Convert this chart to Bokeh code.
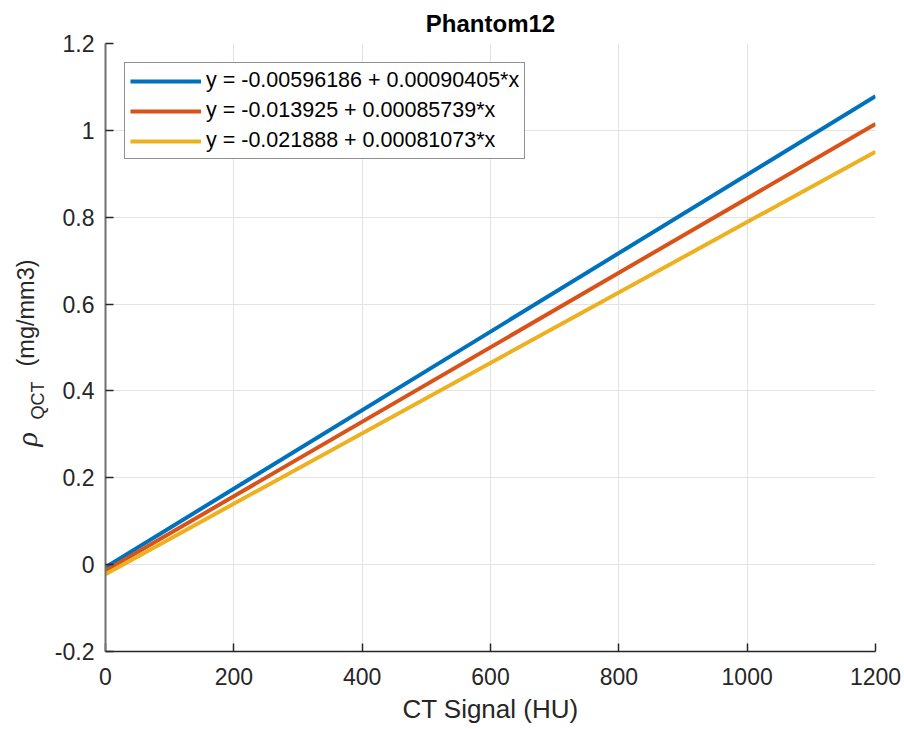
import math
from bokeh.plotting import figure
from bokeh.layouts import row
from bokeh.models import Range1d, FixedTicker
from bokeh.core.properties import value
from bokeh.embed import file_html
from bokeh.resources import INLINE

# ---- data ----
x_ends = [0, 1200]
blue_y = [-0.00596, 1.07890]
red_y = [-0.01393, 1.01494]
yellow_y = [-0.02189, 0.95099]
series_labels = [
    "y = -0.00596186 + 0.00090405*x",
    "y = -0.013925 + 0.00085739*x",
    "y = -0.021888 + 0.00081073*x",
]
series_colors = ["#0072BD", "#D95319", "#EDB120"]
x_ticks = [0, 200, 400, 600, 800, 1000, 1200]
y_ticks = [-0.2, 0, 0.2, 0.4, 0.6, 0.8, 1.0, 1.2]

W, H = 904, 729
LW = 51                      # width of the side panel holding the y label
L, R, T, B = 105, 29, 43, 78
X0, X1, Y0, Y1 = 0, 1200, -0.2, 1.2
FONT = "Liberation Sans"

p = figure(width=W - LW, height=H, output_backend="svg", toolbar_location=None,
           x_range=Range1d(X0, X1), y_range=Range1d(Y0, Y1),
           min_border_left=L - LW, min_border_right=R, min_border_top=T, min_border_bottom=B)
p.outline_line_color = None
p.background_fill_color = "white"
p.border_fill_color = "white"

p.title.text = "Phantom12"
p.title.align = "center"
p.title.text_font = FONT
p.title.text_font_size = "24px"
p.title.text_font_style = "bold"
p.title.text_color = "#000000"
p.title.standoff = 14

for ys, lab, col in zip([blue_y, red_y, yellow_y], series_labels, series_colors):
    p.line(x_ends, ys, line_color=col, line_width=4, legend_label=lab)

p.xaxis.ticker = FixedTicker(ticks=x_ticks)
p.yaxis.ticker = FixedTicker(ticks=y_ticks)
p.xaxis.major_label_overrides = {t: str(t) for t in x_ticks}
p.yaxis.major_label_overrides = {t: ("0" if t == 0 else f"{t:g}") for t in y_ticks}

for ax in (p.xaxis[0], p.yaxis[0]):
    ax.major_label_text_font = FONT
    ax.major_label_text_font_size = "23px"
    ax.major_label_text_color = "#262626"
    ax.major_tick_in = 8
    ax.major_tick_out = 0
    ax.minor_tick_in = 0
    ax.minor_tick_out = 0
    ax.major_tick_line_color = "#262626"
    ax.major_tick_line_width = 1.5

p.xaxis.major_label_standoff = 16
p.yaxis.major_label_standoff = 11
p.xaxis.axis_line_color = "#262626"
p.xaxis.axis_line_width = 1.5
p.yaxis.axis_line_color = "#707070"
p.yaxis.axis_line_width = 2

p.xaxis.axis_label = "CT Signal (HU)"
p.xaxis.axis_label_text_font = FONT
p.xaxis.axis_label_text_font_size = "26px"
p.xaxis.axis_label_text_font_style = "normal"
p.xaxis.axis_label_text_color = "#262626"
p.xaxis.axis_label_standoff = 6

p.grid.grid_line_color = "#e3e3e3"
p.grid.grid_line_width = 1

leg = p.legend[0]
leg.location = "top_left"
leg.margin = 19
leg.border_line_color = "#262626"
leg.border_line_width = 1
leg.background_fill_color = "white"
leg.background_fill_alpha = 1.0
leg.label_text_font = FONT
leg.label_text_font_size = "21.5px"
leg.label_text_color = "#000000"
leg.glyph_width = 71
leg.glyph_height = 20
leg.label_height = 20
leg.label_standoff = 5
leg.padding = 5
leg.spacing = 5

# ---- side panel with the y-axis label: rho, subscript QCT, unit ----
# In a row, the side panel's frame lines up with the main frame (rows T .. H-B),
# so its ranges are set so that data units equal canvas pixels (y measured up from bottom).
side = figure(width=LW, height=H, output_backend="svg", toolbar_location=None,
              x_range=Range1d(0, LW), y_range=Range1d(B, H - T),
              x_axis_location=None, y_axis_location=None,
              min_border=0, min_border_left=0, min_border_right=0,
              min_border_top=T, min_border_bottom=B)
side.grid.visible = False
side.outline_line_color = None
side.background_fill_color = "white"
side.border_fill_color = "white"

ylab_color = "#262626"
# positions given as canvas pixels (x from left, y from top)
side.text(x=[26], y=[H - 446], text=["ρ"], angle=math.pi / 2,
          text_font=value("Liberation Serif"), text_font_style="italic",
          text_font_size="30px", text_color=ylab_color,
          text_align="left", text_baseline="alphabetic")
side.text(x=[37], y=[H - 419], text=["QCT"], angle=math.pi / 2,
          text_font=value(FONT), text_font_size="18px", text_color=ylab_color,
          text_align="left", text_baseline="alphabetic")
side.text(x=[25], y=[H - 366], text=["(mg/mm3)"], angle=math.pi / 2,
          text_font=value(FONT), text_font_size="23.5px", text_color=ylab_color,
          text_align="left", text_baseline="alphabetic")

layout = row(side, p, spacing=0)
open("out.html", "w").write(file_html(layout, INLINE))
